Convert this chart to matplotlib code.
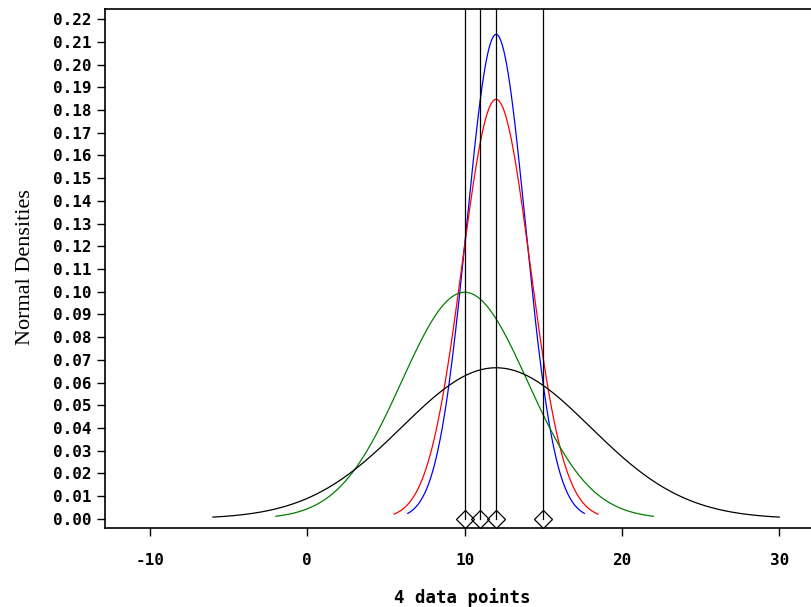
import numpy as np
import matplotlib
matplotlib.use("Agg")
import matplotlib.pyplot as plt

plt.rcParams["axes.unicode_minus"] = False

data_points = [10, 11, 12, 15]
curve_means = [12.0, 12.0, 10.0, 12.0]
curve_sds = [1.8708, 2.1602, 4.0, 6.0]
curve_colors = ["blue", "red", "green", "black"]
y_ticks = [round(0.01 * i, 2) for i in range(23)]
x_ticks = [-10, 0, 10, 20, 30]

fig = plt.figure(figsize=(8.12, 6.07), dpi=100)
ax = fig.add_axes([0.1293, 0.130, 0.8707, 0.855])

for m, s, c in zip(curve_means, curve_sds, curve_colors):
    x = np.linspace(m - 3 * s, m + 3 * s, 300)
    y = np.exp(-0.5 * ((x - m) / s) ** 2) / (s * np.sqrt(2 * np.pi))
    ax.plot(x, y, color=c, lw=0.9)

for p in data_points:
    ax.plot([p, p], [0, 0.2244], color="black", lw=0.9)
ax.plot(data_points, [0] * len(data_points), linestyle="none", marker="D",
        markersize=9.5, markerfacecolor="none", markeredgecolor="black", markeredgewidth=0.9)

ax.set_xlim(-12.86, 32.08)
ax.set_ylim(-0.0041, 0.2244)
ax.set_xticks(x_ticks)
ax.set_yticks(y_ticks)
ax.set_yticklabels([f"{v:.2f}" for v in y_ticks])
ax.spines["right"].set_visible(False)
for s in ["left", "bottom", "top"]:
    ax.spines[s].set_linewidth(1.2)
ax.tick_params(direction="out", length=6, width=1)
for lab in ax.get_xticklabels() + ax.get_yticklabels():
    lab.set_fontfamily("DejaVu Sans Mono")
    lab.set_fontweight("bold")
    lab.set_fontsize(11.5)
ax.tick_params(axis="x", pad=12)
ax.tick_params(axis="y", pad=4)

ax.set_xlabel("4 data points", fontfamily="DejaVu Sans Mono", fontweight="bold",
              fontsize=12.5, va="center")
ax.xaxis.set_label_coords(0.505, -0.133)
ax.set_ylabel("Normal Densities", fontfamily="Liberation Serif", fontsize=16)
ax.yaxis.set_label_coords(-0.099, 0.503)

fig.savefig("out.png", dpi=100)
